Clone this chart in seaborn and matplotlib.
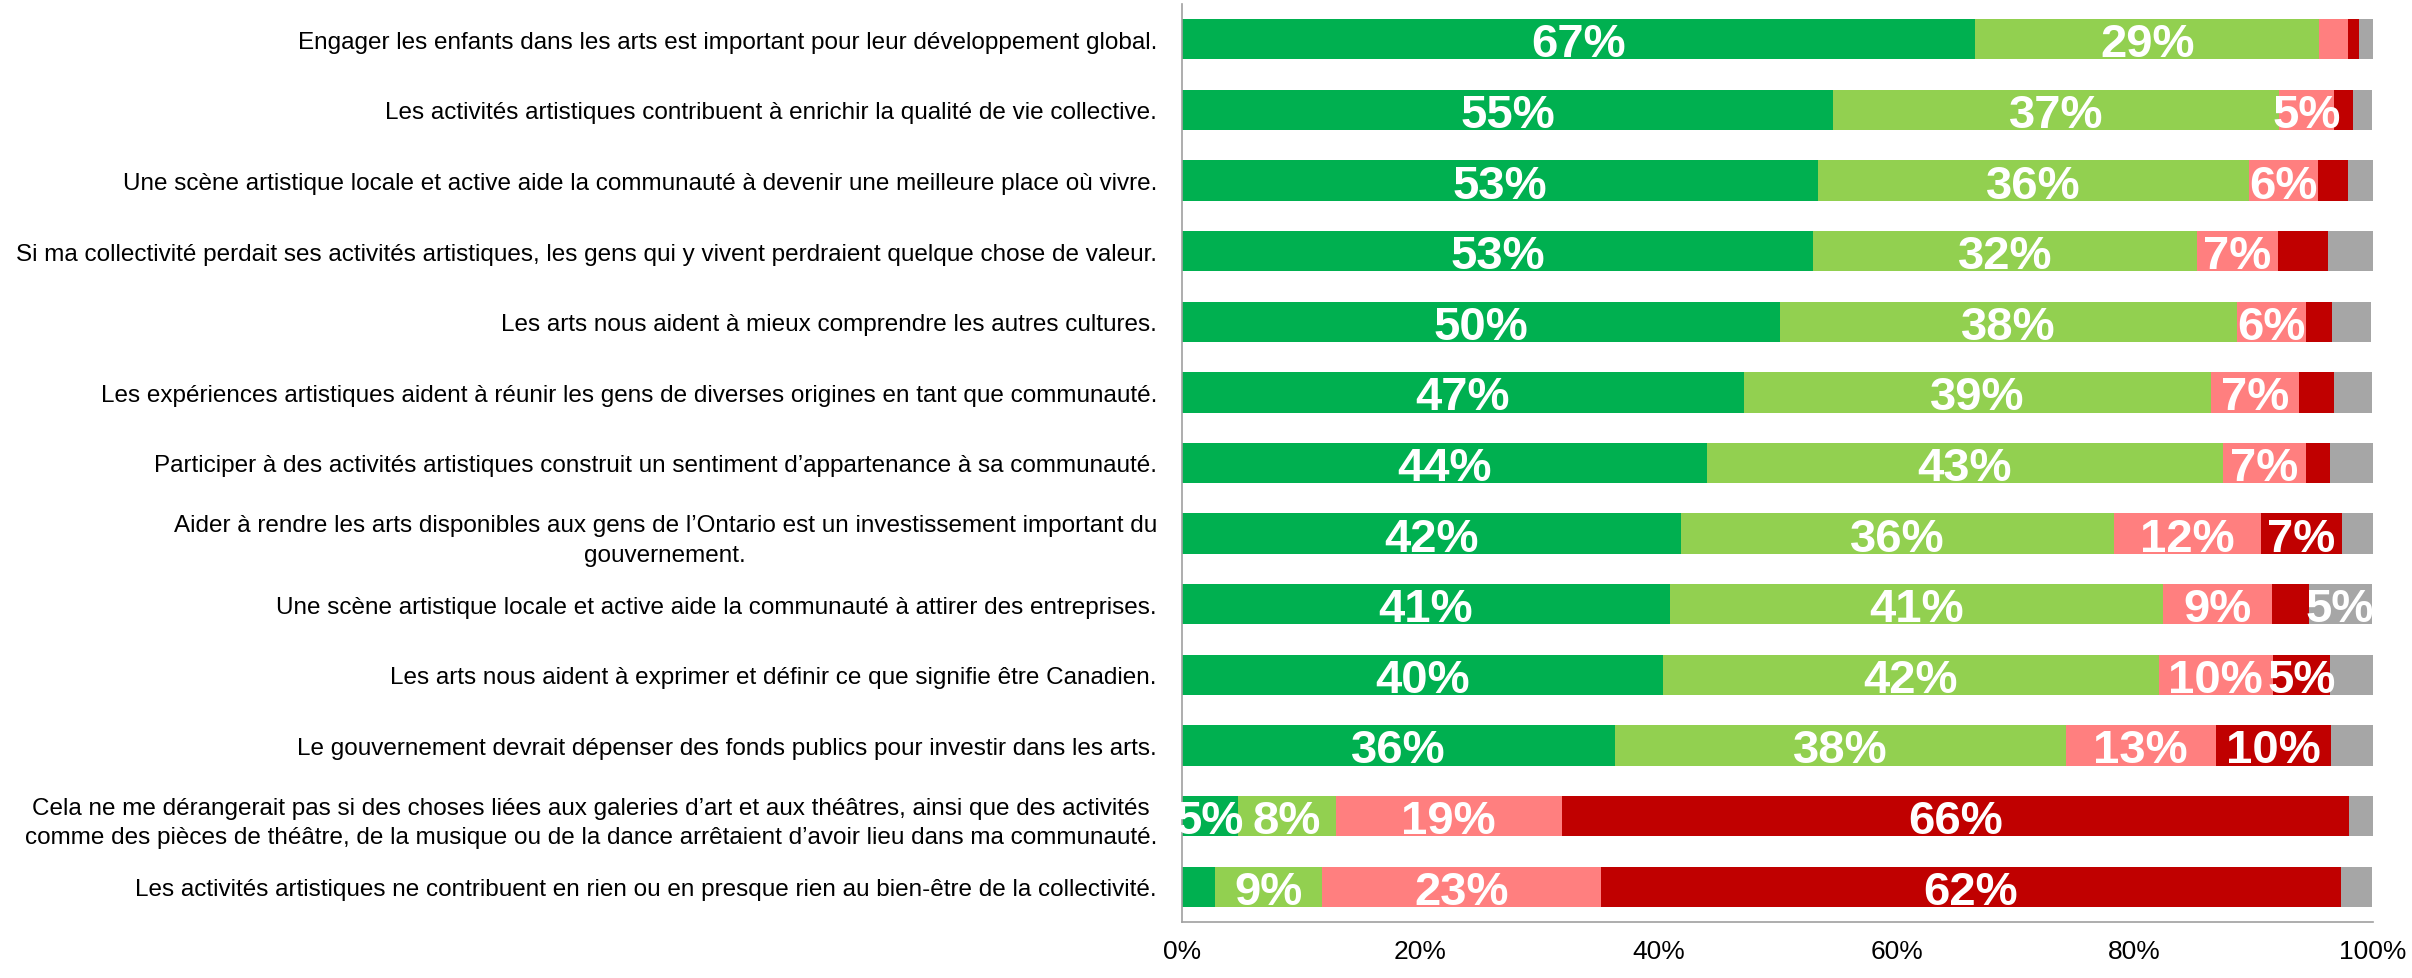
import numpy as np
import pandas as pd
import matplotlib
matplotlib.use("Agg")
import matplotlib.pyplot as plt
import seaborn as sns

categories = [
    "Engager les enfants dans les arts est important pour leur développement global.",
    "Les activités artistiques contribuent à enrichir la qualité de vie collective.",
    "Une scène artistique locale et active aide la communauté à devenir une meilleure place où vivre.",
    "Si ma collectivité perdait ses activités artistiques, les gens qui y vivent perdraient quelque chose de valeur.",
    "Les arts nous aident à mieux comprendre les autres cultures.",
    "Les expériences artistiques aident à réunir les gens de diverses origines en tant que communauté.",
    "Participer à des activités artistiques construit un sentiment d’appartenance à sa communauté.",
    "Aider à rendre les arts disponibles aux gens de l’Ontario est un investissement important du\ngouvernement.",
    "Une scène artistique locale et active aide la communauté à attirer des entreprises.",
    "Les arts nous aident à exprimer et définir ce que signifie être Canadien.",
    "Le gouvernement devrait dépenser des fonds publics pour investir dans les arts.",
    "Cela ne me dérangerait pas si des choses liées aux galeries d’art et aux théâtres, ainsi que des activités\ncomme des pièces de théâtre, de la musique ou de la dance arrêtaient d’avoir lieu dans ma communauté.",
    "Les activités artistiques ne contribuent en rien ou en presque rien au bien-être de la collectivité.",
]

strongly_agree    = [66.6, 54.7, 53.4, 53.0, 50.2, 47.2, 44.1, 41.9, 41.0, 40.4, 36.4, 4.7, 2.8]
somewhat_agree    = [28.9, 37.4, 36.2, 32.2, 38.4, 39.2, 43.3, 36.4, 41.4, 41.6, 37.8, 8.2, 9.0]
somewhat_disagree = [2.4, 4.6, 5.8, 6.8, 5.8, 7.4, 7.0, 12.3, 9.1, 9.6, 12.6, 19.0, 23.4]
strongly_disagree = [0.9, 1.6, 2.5, 4.2, 2.2, 2.9, 2.0, 6.8, 3.1, 4.8, 9.7, 66.1, 62.1]
dont_know         = [1.2, 1.6, 2.1, 3.9, 3.2, 3.2, 3.6, 2.6, 5.3, 3.6, 3.6, 2.0, 2.6]

series = [strongly_agree, somewhat_agree, somewhat_disagree, strongly_disagree, dont_know]
colors = ["#00B050", "#92D050", "#FF7F7F", "#C00000", "#A6A6A6"]
xticks = [0, 20, 40, 60, 80, 100]
xtick_labels = ["0%", "20%", "40%", "60%", "80%", "100%"]

sns.set_style("white")
plt.rcParams["font.family"] = ["Liberation Sans", "DejaVu Sans"]

fig = plt.figure(figsize=(24.12, 9.79), dpi=100)
ax = fig.add_axes([0.490, 0.0572, 0.4938, 0.9377])

vals = np.array(series)
cum = np.cumsum(vals, axis=0)
df = pd.DataFrame({"cat": categories})

# draw cumulative totals from the largest to the smallest so they stack
for k in range(len(series) - 1, -1, -1):
    df["v"] = cum[k]
    sns.barplot(data=df, x="v", y="cat", orient="h", color=colors[k],
                saturation=1, width=0.57, errorbar=None, ax=ax,
                edgecolor="none", linewidth=0)

for i in range(len(categories)):
    start = 0.0
    for k in range(len(series)):
        v = vals[k][i]
        if v >= 4.5:
            ax.text(start + v / 2, i, f"{int(round(v))}%", ha="center",
                    va="center_baseline", color="white", fontsize=34,
                    fontweight="bold")
        start += v

ax.set_xlim(0, 100)
ax.set_ylim(12.5, -0.5)
ax.set_xticks(xticks)
ax.set_xticklabels(xtick_labels, fontsize=19, color="black")
ax.set_yticks(range(len(categories)))
ax.set_yticklabels(categories, fontsize=17.5, color="black",
                   multialignment="center", linespacing=1.45)
ax.set_xlabel("")
ax.set_ylabel("")
ax.tick_params(axis="both", length=0)
ax.tick_params(axis="y", pad=18)
ax.tick_params(axis="x", pad=12)
for s in ["top", "right"]:
    ax.spines[s].set_visible(False)
for s in ["left", "bottom"]:
    ax.spines[s].set_color("#A0A0A0")
    ax.spines[s].set_linewidth(1.2)

fig.savefig("out.png", dpi=100)
